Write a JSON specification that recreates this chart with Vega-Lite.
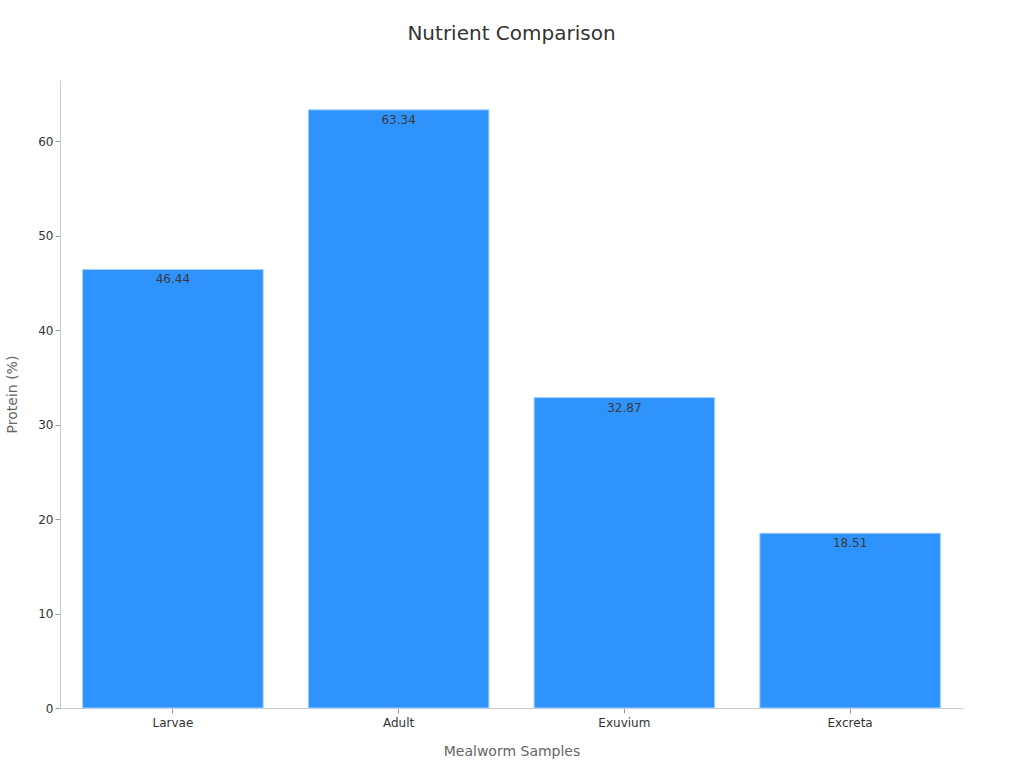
{
  "$schema": "https://vega.github.io/schema/vega-lite/v6.json",
  "width": 903,
  "height": 628,
  "autosize": "none",
  "padding": {"left": 60, "top": 80, "right": 61, "bottom": 60},
  "background": "white",
  "title": {"text": "Nutrient Comparison", "fontSize": 20, "font": "DejaVu Sans", "fontWeight": "normal", "color": "#333333", "anchor": "middle", "offset": 36},
  "config": {"view": {"stroke": null}, "font": "DejaVu Sans"},
  "data": {"values": [
    {"sample": "Larvae", "protein": 46.44},
    {"sample": "Adult", "protein": 63.34},
    {"sample": "Exuvium", "protein": 32.87},
    {"sample": "Excreta", "protein": 18.51}
  ]},
  "encoding": {
    "x": {"field": "sample", "type": "nominal", "sort": null,
      "scale": {"paddingInner": 0.2, "paddingOuter": 0.1},
      "axis": {"title": "Mealworm Samples", "labelAngle": 0, "labelFontSize": 12, "labelColor": "#333333", "titleFontSize": 14, "titleFontWeight": "normal", "titleColor": "#666666", "titlePadding": 16, "domainColor": "#cccccc", "tickColor": "#999999", "labelPadding": 4}},
    "y": {"field": "protein", "type": "quantitative",
      "scale": {"domain": [0, 66.5], "nice": false},
      "axis": {"title": "Protein (%)", "grid": false, "values": [0, 10, 20, 30, 40, 50, 60], "labelFontSize": 12, "labelColor": "#333333", "titleFontSize": 14, "titleFontWeight": "normal", "titleColor": "#666666", "titlePadding": 18, "domainColor": "#cccccc", "tickColor": "#999999"}}
  },
  "layer": [
    {"mark": {"type": "bar", "color": "#2e93fa", "stroke": "#a8d0ff", "strokeWidth": 1}},
    {"mark": {"type": "text", "baseline": "top", "dy": 5, "fontSize": 12, "color": "#3a3a3a"},
     "encoding": {"text": {"field": "protein", "type": "quantitative", "format": ".2f"}}}
  ]
}
